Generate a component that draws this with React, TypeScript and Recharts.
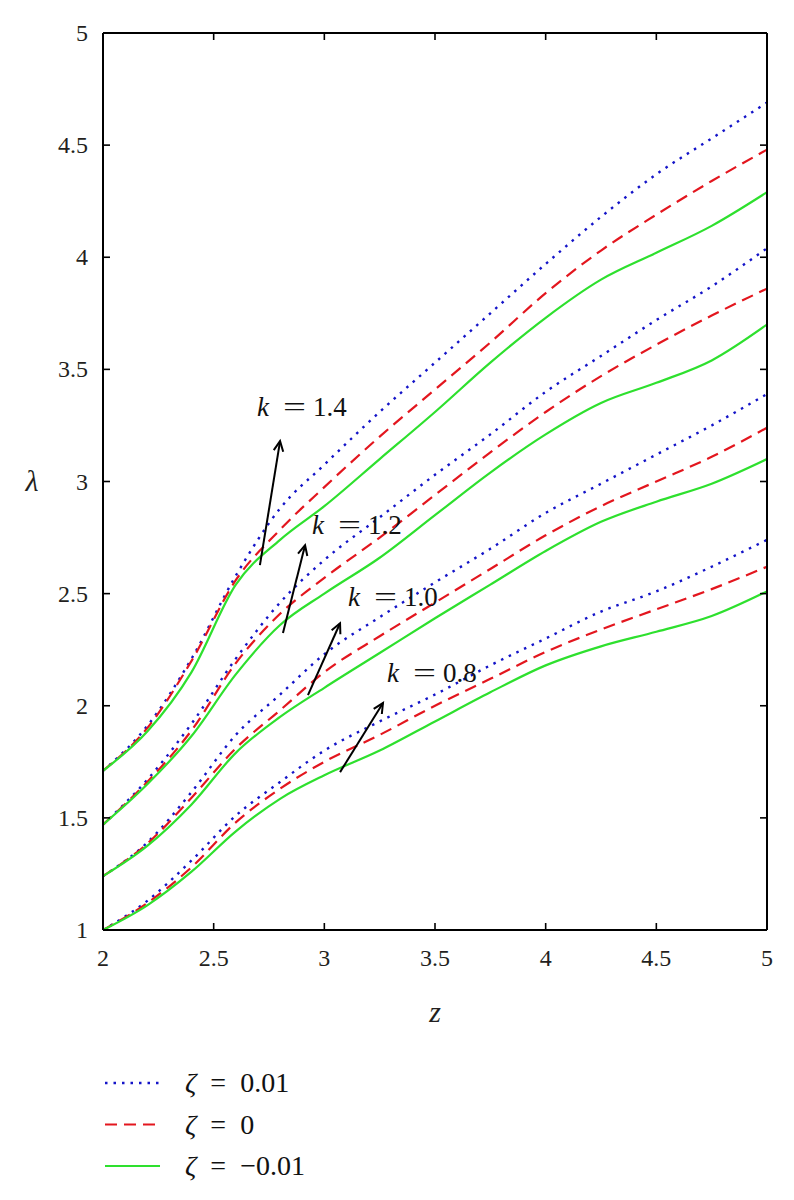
import {
    LineChart,
    Line,
    XAxis,
    YAxis,
    ReferenceLine,
    ReferenceDot
} from 'recharts';

// z grid shared by every curve
const zValues = [2, 2.2, 2.4, 2.6, 2.8, 3.0, 3.25, 3.5, 3.75, 4.0, 4.25, 4.5, 4.75, 5];

// k = 0.8
const blue08 = [1.0, 1.13, 1.31, 1.51, 1.66, 1.80, 1.93, 2.05, 2.18, 2.30, 2.42, 2.51, 2.62, 2.74];
const red08 = [1.0, 1.12, 1.28, 1.48, 1.63, 1.75, 1.87, 2.00, 2.12, 2.24, 2.34, 2.43, 2.52, 2.62];
const green08 = [1.0, 1.11, 1.26, 1.44, 1.585, 1.69, 1.80, 1.93, 2.06, 2.18, 2.265, 2.33, 2.40, 2.51];
// k = 1.0
const blue10 = [1.24, 1.39, 1.615, 1.87, 2.05, 2.23, 2.395, 2.55, 2.70, 2.86, 2.99, 3.12, 3.25, 3.39];
const red10 = [1.24, 1.385, 1.59, 1.81, 1.98, 2.15, 2.31, 2.46, 2.61, 2.76, 2.89, 3.00, 3.11, 3.24];
const green10 = [1.24, 1.375, 1.56, 1.79, 1.95, 2.08, 2.235, 2.39, 2.54, 2.69, 2.82, 2.91, 2.99, 3.10];
// k = 1.2
const blue12 = [1.47, 1.67, 1.92, 2.21, 2.46, 2.65, 2.84, 3.03, 3.21, 3.40, 3.56, 3.72, 3.87, 4.04];
const red12 = [1.47, 1.66, 1.89, 2.19, 2.41, 2.57, 2.75, 2.94, 3.13, 3.31, 3.47, 3.61, 3.74, 3.86];
const green12 = [1.47, 1.65, 1.865, 2.14, 2.36, 2.50, 2.66, 2.85, 3.04, 3.21, 3.35, 3.44, 3.54, 3.70];
// k = 1.4
const blue14 = [1.71, 1.91, 2.21, 2.58, 2.88, 3.075, 3.31, 3.53, 3.75, 3.97, 4.18, 4.37, 4.53, 4.69];
const red14 = [1.71, 1.90, 2.20, 2.56, 2.785, 2.975, 3.20, 3.41, 3.62, 3.84, 4.03, 4.19, 4.34, 4.48];
const green14 = [1.71, 1.885, 2.15, 2.54, 2.74, 2.89, 3.10, 3.31, 3.53, 3.73, 3.90, 4.02, 4.14, 4.29];

const xTicks = [2, 2.5, 3, 3.5, 4, 4.5, 5];
const yTicks = [1, 1.5, 2, 2.5, 3, 3.5, 4, 4.5, 5];

// k annotations: label anchor, arrow tail and arrow tip, in (z, λ)
const kLabels = ['1.4', '1.2', '1.0', '0.8'];
const kLabelAt = [[2.696, 3.33], [2.944, 2.805], [3.107, 2.484], [3.283, 2.145]];
const kArrowFrom = [[2.709, 2.627], [2.813, 2.324], [2.926, 2.047], [3.071, 1.704]];
const kArrowTo = [[2.80, 3.18], [2.913, 2.716], [3.071, 2.368], [3.265, 2.012]];

const series = [
    { key: 'b14', values: blue14, kind: 'blue' },
    { key: 'r14', values: red14, kind: 'red' },
    { key: 'g14', values: green14, kind: 'green' },
    { key: 'b12', values: blue12, kind: 'blue' },
    { key: 'r12', values: red12, kind: 'red' },
    { key: 'g12', values: green12, kind: 'green' },
    { key: 'b10', values: blue10, kind: 'blue' },
    { key: 'r10', values: red10, kind: 'red' },
    { key: 'g10', values: green10, kind: 'green' },
    { key: 'b08', values: blue08, kind: 'blue' },
    { key: 'r08', values: red08, kind: 'red' },
    { key: 'g08', values: green08, kind: 'green' },
];

const data = zValues.map((z, i) => {
    const row: Record<string, number> = { z };
    series.forEach(s => { row[s.key] = s.values[i]; });
    return row;
});

const FONT = 'Liberation Serif, Times New Roman, Tinos, serif';
const BLUE = '#1414c8';
const RED = '#e3161e';
const GREEN = '#2ee02e';

const lineStyle: Record<string, { stroke: string; dash?: string; width: number }> = {
    blue: { stroke: BLUE, dash: '2.5 6', width: 2.4 },
    red: { stroke: RED, dash: '12 7', width: 2.2 },
    green: { stroke: GREEN, width: 2.2 },
};

const M = 14;    // tick margin, tick size is 0 so the axis line is M away from the label anchor
const TL = 7;    // inward tick length

const BottomTick = (props: any) => {
    const { x, y, payload } = props;
    const ay = y - M;
    return (
        <g>
            <line x1={x} y1={ay} x2={x} y2={ay - TL} stroke="#000" strokeWidth={1.6} />
            <text x={x} y={ay + 36} textAnchor="middle" fill="#231f20"
                style={{ fontFamily: FONT, fontSize: 24 }}>
                {String(payload.value)}
            </text>
        </g>
    );
};

const TopTick = (props: any) => {
    const { x, y } = props;
    const ay = y + M;
    return <line x1={x} y1={ay} x2={x} y2={ay + TL} stroke="#000" strokeWidth={1.6} />;
};

const LeftTick = (props: any) => {
    const { x, y, payload } = props;
    const ax = x + M;
    return (
        <g>
            <line x1={ax} y1={y} x2={ax + TL} y2={y} stroke="#000" strokeWidth={1.6} />
            <text x={ax - 15} y={y + 8} textAnchor="end" fill="#231f20"
                style={{ fontFamily: FONT, fontSize: 24 }}>
                {String(payload.value)}
            </text>
        </g>
    );
};

const RightTick = (props: any) => {
    const { x, y } = props;
    const ax = x - M;
    return <line x1={ax} y1={y} x2={ax - TL} y2={y} stroke="#000" strokeWidth={1.6} />;
};

const Arrow = (props: any) => {
    const { x1, y1, x2, y2 } = props;
    const a = Math.atan2(y2 - y1, x2 - x1);
    const h = 11;
    const s = 0.45;
    return (
        <g stroke="#000" strokeWidth={2} fill="none">
            <line x1={x1} y1={y1} x2={x2} y2={y2} />
            <polyline
                points={`${x2 - h * Math.cos(a - s)},${y2 - h * Math.sin(a - s)} ${x2},${y2} ${x2 - h * Math.cos(a + s)},${y2 - h * Math.sin(a + s)}`}
            />
        </g>
    );
};

const kLabel = (value: string) => (props: any) => {
    const { cx, cy } = props;
    return (
        <g fill="#111" style={{ fontFamily: FONT, fontSize: 27 }}>
            <text x={cx} y={cy + 9} fontStyle="italic">k</text>
            <text x={cx + 26} y={cy + 9} textLength={23} lengthAdjust="spacingAndGlyphs">=</text>
            <text x={cx + 56} y={cy + 9}>{value}</text>
        </g>
    );
};

const AxisTitleX = (props: any) => {
    const { viewBox } = props;
    return (
        <text x={viewBox.x + viewBox.width / 2} y={viewBox.y + 92} textAnchor="middle"
            fontStyle="italic" fill="#231f20" style={{ fontFamily: FONT, fontSize: 30 }}>z</text>
    );
};

const AxisTitleY = (props: any) => {
    const { viewBox } = props;
    return (
        <text x={viewBox.x - 11} y={viewBox.y + viewBox.height / 2 + 9} textAnchor="middle"
            fontStyle="italic" fill="#231f20" style={{ fontFamily: FONT, fontSize: 30 }}>λ</text>
    );
};

const legendRows = [
    { label: '0.01', kind: 'blue' },
    { label: '0', kind: 'red' },
    { label: '−0.01', kind: 'green' },
];

const App = () => {
    return (
        <div style={{ width: 778, background: '#fff' }}>
            <LineChart width={778} height={1040} data={data}
                margin={{ top: 24, right: 18, left: 35, bottom: 58 }}>
                <XAxis dataKey="z" type="number" domain={[2, 5]} ticks={xTicks} allowDataOverflow
                    height={60} tickSize={0} tickMargin={M} tick={<BottomTick />}
                    axisLine={{ stroke: '#000', strokeWidth: 2 }} label={<AxisTitleX />} />
                <XAxis xAxisId="top" dataKey="z" orientation="top" type="number" domain={[2, 5]} ticks={xTicks}
                    allowDataOverflow height={1} tickSize={0} tickMargin={M} tick={<TopTick />}
                    axisLine={{ stroke: '#000', strokeWidth: 2 }} />
                <YAxis type="number" domain={[1, 5]} ticks={yTicks} allowDataOverflow width={60}
                    tickSize={0} tickMargin={M} tick={<LeftTick />}
                    axisLine={{ stroke: '#000', strokeWidth: 2 }} label={<AxisTitleY />} />
                <YAxis yAxisId="right" orientation="right" type="number" domain={[1, 5]} ticks={yTicks}
                    allowDataOverflow width={1} tickSize={0} tickMargin={M} tick={<RightTick />}
                    axisLine={{ stroke: '#000', strokeWidth: 2 }} />

                {series.map(s => {
                    const st = lineStyle[s.kind];
                    return (
                        <Line key={s.key} type="monotone" dataKey={s.key} stroke={st.stroke}
                            strokeWidth={st.width} strokeDasharray={st.dash} dot={false}
                            activeDot={false} isAnimationActive={false} />
                    );
                })}
                {/* invisible copy so the frame axes have a series bound to them */}
                <Line xAxisId="top" yAxisId="right" dataKey="g14" stroke="none" dot={false}
                    activeDot={false} isAnimationActive={false} />

                {kLabels.map((k, i) => (
                    <ReferenceLine key={`arrow-${k}`}
                        segment={[
                            { x: kArrowFrom[i][0], y: kArrowFrom[i][1] },
                            { x: kArrowTo[i][0], y: kArrowTo[i][1] },
                        ]}
                        shape={<Arrow />} />
                ))}
                {kLabels.map((k, i) => (
                    <ReferenceDot key={`label-${k}`} x={kLabelAt[i][0]} y={kLabelAt[i][1]} r={0}
                        shape={kLabel(k)} />
                ))}
            </LineChart>

            <svg width={400} height={140} style={{ display: 'block' }}>
                {legendRows.map((row, i) => {
                    const st = lineStyle[row.kind];
                    const cy = 35 + i * 41.5;
                    return (
                        <g key={row.label}>
                            <line x1={97} y1={cy} x2={152} y2={cy} stroke={st.stroke}
                                strokeWidth={st.width} strokeDasharray={st.dash} />
                            <text x={177} y={cy + 9} fill="#111" style={{ fontFamily: FONT, fontSize: 28 }}>
                                <tspan fontStyle="italic">ζ</tspan>
                                <tspan dx={14}>=</tspan>
                                <tspan dx={14}>{row.label}</tspan>
                            </text>
                        </g>
                    );
                })}
            </svg>
        </div>
    );
};

export default App;
